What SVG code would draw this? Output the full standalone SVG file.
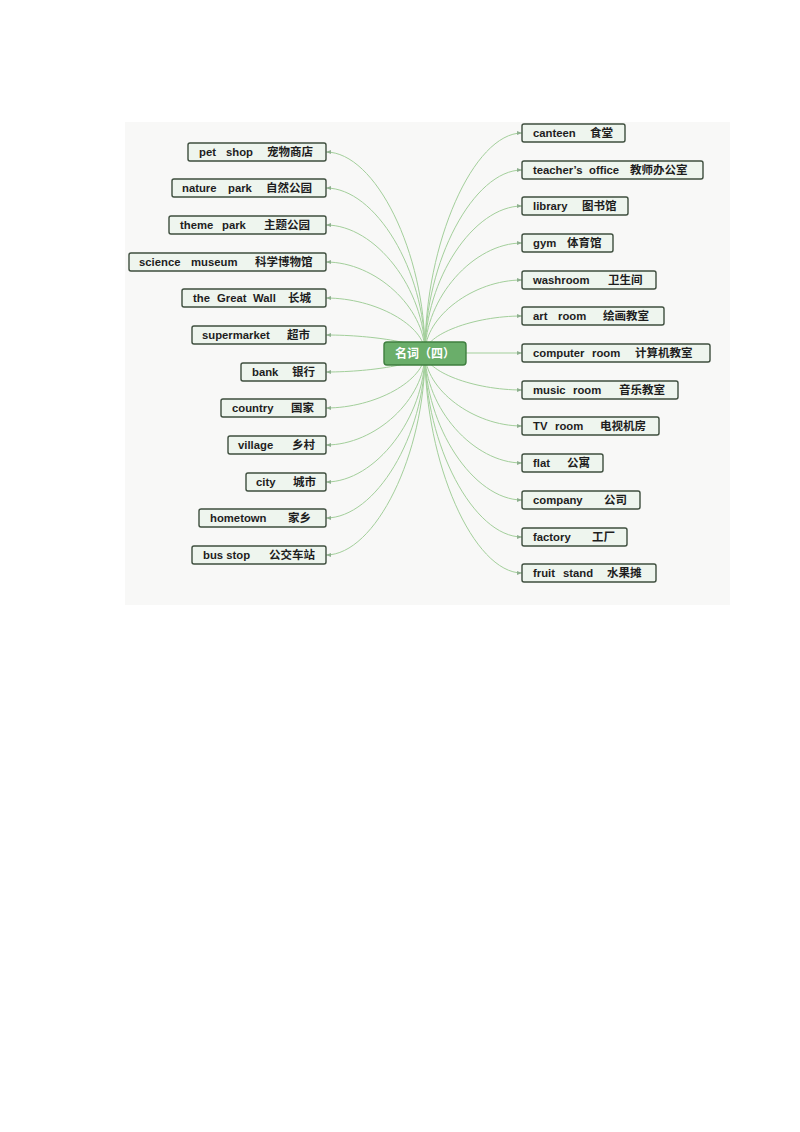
<svg xmlns="http://www.w3.org/2000/svg" width="800" height="1132" viewBox="0 0 800 1132">
<defs>
<marker id="arr" markerUnits="userSpaceOnUse" markerWidth="5" markerHeight="5" refX="5" refY="2.5" orient="auto">
<path d="M0,0.5 L5,2.5 L0,4.5 z" fill="#8fb08f"/>
</marker>
<style>
.bg{fill:#f8f8f7}
.box{fill:#eef5ee;stroke:#3e4e3e;stroke-width:1.4}
.t{font-family:"Liberation Sans","Noto Sans CJK SC",sans-serif;font-weight:bold;font-size:11.3px;fill:#1e1e1e}
.zh{font-family:"Noto Sans CJK SC",sans-serif;font-weight:bold;font-size:11.5px}
.c{fill:none;stroke:#a3cf9b;stroke-width:1;marker-end:url(#arr)}
.root{fill:#6aae6a;stroke:#3f7f3f;stroke-width:1.4}
.rt{font-family:"Noto Sans CJK SC",sans-serif;font-weight:bold;font-size:12px;fill:#ffffff}
</style>
</defs>
<rect class="bg" x="125" y="122" width="605" height="483"/>
<g id="connectors">
<path class="c" d="M425,353 C425,252.5 375.5,152 326,152"/>
<path class="c" d="M425,353 C425,270.5 375.5,188 326,188"/>
<path class="c" d="M425,353 C425,289 375.5,225 326,225"/>
<path class="c" d="M425,353 C425,307.5 375.5,262 326,262"/>
<path class="c" d="M425,353 C425,325.5 375.5,298 326,298"/>
<path class="c" d="M425,353 C425,344 375.5,335 326,335"/>
<path class="c" d="M425,353 C425,362.5 375.5,372 326,372"/>
<path class="c" d="M425,353 C425,380.5 375.5,408 326,408"/>
<path class="c" d="M425,353 C425,399 375.5,445 326,445"/>
<path class="c" d="M425,353 C425,417.5 375.5,482 326,482"/>
<path class="c" d="M425,353 C425,435.5 375.5,518 326,518"/>
<path class="c" d="M425,353 C425,454 375.5,555 326,555"/>
<path class="c" d="M425,353 C425,243 473.5,133 522,133"/>
<path class="c" d="M425,353 C425,261.5 473.5,170 522,170"/>
<path class="c" d="M425,353 C425,279.5 473.5,206 522,206"/>
<path class="c" d="M425,353 C425,298 473.5,243 522,243"/>
<path class="c" d="M425,353 C425,316.5 473.5,280 522,280"/>
<path class="c" d="M425,353 C425,334.5 473.5,316 522,316"/>
<path class="c" d="M425,353 L522,353"/>
<path class="c" d="M425,353 C425,371.5 473.5,390 522,390"/>
<path class="c" d="M425,353 C425,389.5 473.5,426 522,426"/>
<path class="c" d="M425,353 C425,408 473.5,463 522,463"/>
<path class="c" d="M425,353 C425,426.5 473.5,500 522,500"/>
<path class="c" d="M425,353 C425,445 473.5,537 522,537"/>
<path class="c" d="M425,353 C425,463 473.5,573 522,573"/>
</g>
<g id="root">
<rect class="root" x="384" y="342" width="82" height="23" rx="3"/>
<text class="rt" x="425" y="358" text-anchor="middle">名词（四）</text>
</g>
<g id="n-petshop"><rect class="box" x="188" y="143" width="138" height="18" rx="2"/><text class="t" y="156"><tspan x="199">pet</tspan> <tspan x="226">shop</tspan> <tspan class="zh" x="267">宠物商店</tspan></text></g>
<g id="n-naturepark"><rect class="box" x="172" y="179" width="154" height="18" rx="2"/><text class="t" y="192"><tspan x="182">nature</tspan> <tspan x="228">park</tspan> <tspan class="zh" x="266">自然公园</tspan></text></g>
<g id="n-themepark"><rect class="box" x="169" y="216" width="157" height="18" rx="2"/><text class="t" y="229"><tspan x="180">theme</tspan> <tspan x="222">park</tspan> <tspan class="zh" x="264">主题公园</tspan></text></g>
<g id="n-sciencemuseum"><rect class="box" x="129" y="253" width="197" height="18" rx="2"/><text class="t" y="266"><tspan x="139">science</tspan> <tspan x="191">museum</tspan> <tspan class="zh" x="255">科学博物馆</tspan></text></g>
<g id="n-greatwall"><rect class="box" x="182" y="289" width="144" height="18" rx="2"/><text class="t" y="302"><tspan x="193">the</tspan> <tspan x="217">Great</tspan> <tspan x="253">Wall</tspan> <tspan class="zh" x="288">长城</tspan></text></g>
<g id="n-supermarket"><rect class="box" x="192" y="326" width="134" height="18" rx="2"/><text class="t" y="339"><tspan x="202">supermarket</tspan> <tspan class="zh" x="287">超市</tspan></text></g>
<g id="n-bank"><rect class="box" x="241" y="363" width="85" height="18" rx="2"/><text class="t" y="376"><tspan x="252">bank</tspan> <tspan class="zh" x="292">银行</tspan></text></g>
<g id="n-country"><rect class="box" x="221" y="399" width="105" height="18" rx="2"/><text class="t" y="412"><tspan x="232">country</tspan> <tspan class="zh" x="291">国家</tspan></text></g>
<g id="n-village"><rect class="box" x="228" y="436" width="98" height="18" rx="2"/><text class="t" y="449"><tspan x="238">village</tspan> <tspan class="zh" x="292">乡村</tspan></text></g>
<g id="n-city"><rect class="box" x="246" y="473" width="80" height="18" rx="2"/><text class="t" y="486"><tspan x="256">city</tspan> <tspan class="zh" x="293">城市</tspan></text></g>
<g id="n-hometown"><rect class="box" x="199" y="509" width="127" height="18" rx="2"/><text class="t" y="522"><tspan x="210">hometown</tspan> <tspan class="zh" x="288">家乡</tspan></text></g>
<g id="n-busstop"><rect class="box" x="192" y="546" width="134" height="18" rx="2"/><text class="t" y="559"><tspan x="203">bus stop</tspan> <tspan class="zh" x="269">公交车站</tspan></text></g>
<g id="n-canteen"><rect class="box" x="522" y="124" width="103" height="18" rx="2"/><text class="t" y="137"><tspan x="533">canteen</tspan> <tspan class="zh" x="590">食堂</tspan></text></g>
<g id="n-teachersoffice"><rect class="box" x="522" y="161" width="181" height="18" rx="2"/><text class="t" y="174"><tspan x="533">teacher’s</tspan> <tspan x="589">office</tspan> <tspan class="zh" x="630">教师办公室</tspan></text></g>
<g id="n-library"><rect class="box" x="522" y="197" width="106" height="18" rx="2"/><text class="t" y="210"><tspan x="533">library</tspan> <tspan class="zh" x="582">图书馆</tspan></text></g>
<g id="n-gym"><rect class="box" x="522" y="234" width="91" height="18" rx="2"/><text class="t" y="247"><tspan x="533">gym</tspan> <tspan class="zh" x="567">体育馆</tspan></text></g>
<g id="n-washroom"><rect class="box" x="522" y="271" width="134" height="18" rx="2"/><text class="t" y="284"><tspan x="533">washroom</tspan> <tspan class="zh" x="608">卫生间</tspan></text></g>
<g id="n-artroom"><rect class="box" x="522" y="307" width="142" height="18" rx="2"/><text class="t" y="320"><tspan x="533">art</tspan> <tspan x="558">room</tspan> <tspan class="zh" x="603">绘画教室</tspan></text></g>
<g id="n-computerroom"><rect class="box" x="522" y="344" width="188" height="18" rx="2"/><text class="t" y="357"><tspan x="533">computer</tspan> <tspan x="592">room</tspan> <tspan class="zh" x="635">计算机教室</tspan></text></g>
<g id="n-musicroom"><rect class="box" x="522" y="381" width="156" height="18" rx="2"/><text class="t" y="394"><tspan x="533">music</tspan> <tspan x="573">room</tspan> <tspan class="zh" x="619">音乐教室</tspan></text></g>
<g id="n-tvroom"><rect class="box" x="522" y="417" width="137" height="18" rx="2"/><text class="t" y="430"><tspan x="533">TV</tspan> <tspan x="555">room</tspan> <tspan class="zh" x="600">电视机房</tspan></text></g>
<g id="n-flat"><rect class="box" x="522" y="454" width="81" height="18" rx="2"/><text class="t" y="467"><tspan x="533">flat</tspan> <tspan class="zh" x="567">公寓</tspan></text></g>
<g id="n-company"><rect class="box" x="522" y="491" width="118" height="18" rx="2"/><text class="t" y="504"><tspan x="533">company</tspan> <tspan class="zh" x="604">公司</tspan></text></g>
<g id="n-factory"><rect class="box" x="522" y="528" width="105" height="18" rx="2"/><text class="t" y="541"><tspan x="533">factory</tspan> <tspan class="zh" x="592">工厂</tspan></text></g>
<g id="n-fruitstand"><rect class="box" x="522" y="564" width="134" height="18" rx="2"/><text class="t" y="577"><tspan x="533">fruit</tspan> <tspan x="563">stand</tspan> <tspan class="zh" x="607">水果摊</tspan></text></g>
</svg>
